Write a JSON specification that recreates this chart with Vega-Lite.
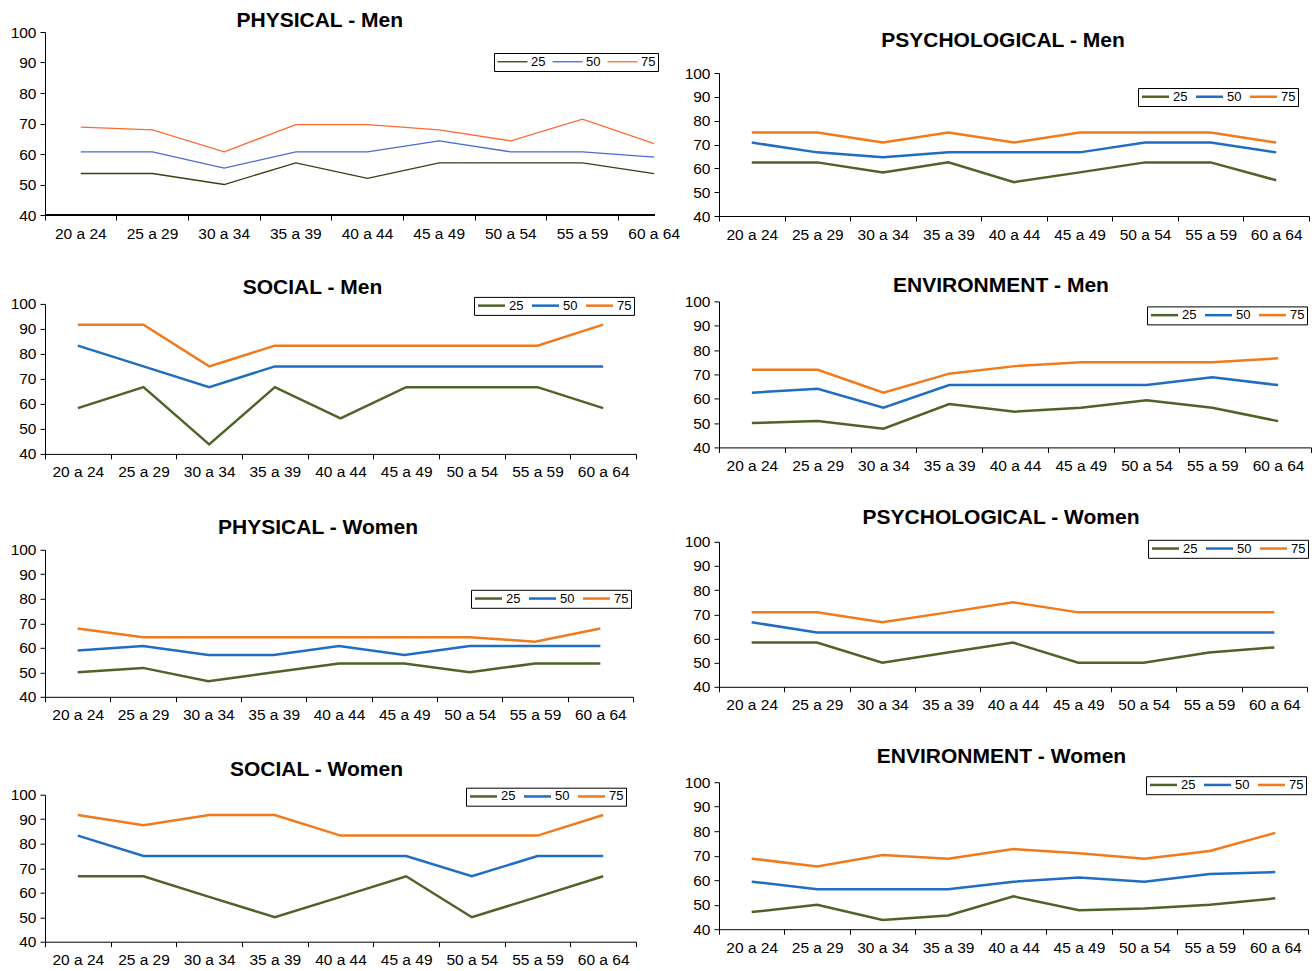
{
"$schema": "https://vega.github.io/schema/vega-lite/v6.json",
"padding": {"left": 10, "top": 8, "right": 0, "bottom": 0},
"spacing": -6,
"resolve": {"scale": {"color": "independent"}, "legend": {"color": "independent"}},
"config": {
  "font": "Liberation Sans",
  "view": {"stroke": null},
  "axis": {"labelFont": "Liberation Sans", "labelFontSize": 15.5, "labelColor": "#000", "domainColor": "#000", "tickColor": "#000", "tickSize": 5, "grid": false},
  "axisX": {"labelPadding": 6, "labelAngle": 0},
  "axisY": {"labelPadding": 4},
  "title": {"font": "Liberation Sans", "fontSize": 21, "fontWeight": "bold", "color": "#000", "anchor": "middle"},
  "legend": {"orient": "none", "direction": "horizontal", "symbolType": "M-1,0H5", "symbolSize": 81, "symbolStrokeWidth": 2.5, "labelFont": "Liberation Sans", "labelFontSize": 13, "labelColor": "#000", "strokeColor": "#000", "fillColor": "#fff", "padding": 2, "columnPadding": 3, "labelOffset": 20}
},
"hconcat": [
{
"spacing": 0,
"resolve": {"scale": {"color": "independent"}, "legend": {"color": "independent"}},
"vconcat": [
{"width": 100, "height": 1, "data": {"values": [{}]}, "mark": {"type": "point", "size": 0, "opacity": 0}, "encoding": {}},
{
"spacing": 34.9,
"resolve": {"scale": {"color": "independent"}, "legend": {"color": "independent"}},
"vconcat": [
{
"width": 609.5, "height": 183,
"title": {"text": "PHYSICAL - Men", "offset": -5.7, "dx": -30},
"data": {"values": [
{"a":"20 a 24","k":"25","v":53.6},{"a":"25 a 29","k":"25","v":53.6},{"a":"30 a 34","k":"25","v":50},{"a":"35 a 39","k":"25","v":57.1},{"a":"40 a 44","k":"25","v":52},{"a":"45 a 49","k":"25","v":57.1},{"a":"50 a 54","k":"25","v":57.1},{"a":"55 a 59","k":"25","v":57.1},{"a":"60 a 64","k":"25","v":53.6},
{"a":"20 a 24","k":"50","v":60.7},{"a":"25 a 29","k":"50","v":60.7},{"a":"30 a 34","k":"50","v":55.4},{"a":"35 a 39","k":"50","v":60.7},{"a":"40 a 44","k":"50","v":60.7},{"a":"45 a 49","k":"50","v":64.3},{"a":"50 a 54","k":"50","v":60.7},{"a":"55 a 59","k":"50","v":60.7},{"a":"60 a 64","k":"50","v":59},
{"a":"20 a 24","k":"75","v":68.8},{"a":"25 a 29","k":"75","v":67.9},{"a":"30 a 34","k":"75","v":60.7},{"a":"35 a 39","k":"75","v":69.6},{"a":"40 a 44","k":"75","v":69.6},{"a":"45 a 49","k":"75","v":67.9},{"a":"50 a 54","k":"75","v":64.3},{"a":"55 a 59","k":"75","v":71.4},{"a":"60 a 64","k":"75","v":63.4}
]},
"layer": [
{
"mark": {"type": "line", "strokeWidth": 1.3},
"encoding": {
  "x": {"field": "a", "type": "nominal", "sort": null, "title": null, "scale": {"type": "band", "paddingInner": 0, "paddingOuter": 0, "range": [0, 645]}, "axis": {"bandPosition": 0, "domain": false}},
  "y": {"field": "v", "type": "quantitative", "title": null, "scale": {"domain": [40, 100], "nice": false, "zero": false}, "axis": {"values": [40,50,60,70,80,90,100]}},
  "color": {"field": "k", "type": "nominal", "scale": {"domain": ["25","50","75"], "range": ["#3d3d12", "#4a6bd0", "#ff6a30"]}, "legend": {"title": null, "legendX": 449, "legendY": 21, "symbolStrokeWidth": 1.3, "symbolSize": 100, "labelOffset": 22}}
}
},
{"mark": {"type": "rule", "color": "#000", "strokeWidth": 1}, "encoding": {"y": {"datum": 40, "type": "quantitative", "axis": {"values": [40,50,60,70,80,90,100]}}}}
]
},
{
"width": 591, "height": 150,
"title": {"text": "SOCIAL - Men", "offset": -1.7, "dx": -28},
"data": {"values": [
{"a":"20 a 24","k":"25","v":58.3},{"a":"25 a 29","k":"25","v":66.7},{"a":"30 a 34","k":"25","v":43.8},{"a":"35 a 39","k":"25","v":66.7},{"a":"40 a 44","k":"25","v":54.2},{"a":"45 a 49","k":"25","v":66.7},{"a":"50 a 54","k":"25","v":66.7},{"a":"55 a 59","k":"25","v":66.7},{"a":"60 a 64","k":"25","v":58.3},
{"a":"20 a 24","k":"50","v":83.3},{"a":"25 a 29","k":"50","v":75},{"a":"30 a 34","k":"50","v":66.7},{"a":"35 a 39","k":"50","v":75},{"a":"40 a 44","k":"50","v":75},{"a":"45 a 49","k":"50","v":75},{"a":"50 a 54","k":"50","v":75},{"a":"55 a 59","k":"50","v":75},{"a":"60 a 64","k":"50","v":75},
{"a":"20 a 24","k":"75","v":91.7},{"a":"25 a 29","k":"75","v":91.7},{"a":"30 a 34","k":"75","v":75},{"a":"35 a 39","k":"75","v":83.3},{"a":"40 a 44","k":"75","v":83.3},{"a":"45 a 49","k":"75","v":83.3},{"a":"50 a 54","k":"75","v":83.3},{"a":"55 a 59","k":"75","v":83.3},{"a":"60 a 64","k":"75","v":91.7}
]},
"mark": {"type": "line", "strokeWidth": 2.5},
"encoding": {
  "x": {"field": "a", "type": "nominal", "sort": null, "title": null, "scale": {"type": "band", "paddingInner": 0, "paddingOuter": 0}, "axis": {"tickBand": "extent"}},
  "y": {"field": "v", "type": "quantitative", "title": null, "scale": {"domain": [40, 100], "nice": false, "zero": false}, "axis": {"values": [40,50,60,70,80,90,100]}},
  "color": {"field": "k", "type": "nominal", "scale": {"domain": ["25","50","75"], "range": ["#4f6228", "#1f6ec1", "#f07a1c"]}, "legend": {"title": null, "legendX": 429, "legendY": -7}}
}
},
{
"width": 588, "height": 147,
"title": {"text": "PHYSICAL - Women", "offset": 5.3, "dx": -21},
"data": {"values": [
{"a":"20 a 24","k":"25","v":50},{"a":"25 a 29","k":"25","v":51.8},{"a":"30 a 34","k":"25","v":46.4},{"a":"35 a 39","k":"25","v":50},{"a":"40 a 44","k":"25","v":53.6},{"a":"45 a 49","k":"25","v":53.6},{"a":"50 a 54","k":"25","v":50},{"a":"55 a 59","k":"25","v":53.6},{"a":"60 a 64","k":"25","v":53.6},
{"a":"20 a 24","k":"50","v":58.9},{"a":"25 a 29","k":"50","v":60.7},{"a":"30 a 34","k":"50","v":57.1},{"a":"35 a 39","k":"50","v":57.1},{"a":"40 a 44","k":"50","v":60.7},{"a":"45 a 49","k":"50","v":57.1},{"a":"50 a 54","k":"50","v":60.7},{"a":"55 a 59","k":"50","v":60.7},{"a":"60 a 64","k":"50","v":60.7},
{"a":"20 a 24","k":"75","v":67.9},{"a":"25 a 29","k":"75","v":64.3},{"a":"30 a 34","k":"75","v":64.3},{"a":"35 a 39","k":"75","v":64.3},{"a":"40 a 44","k":"75","v":64.3},{"a":"45 a 49","k":"75","v":64.3},{"a":"50 a 54","k":"75","v":64.3},{"a":"55 a 59","k":"75","v":62.5},{"a":"60 a 64","k":"75","v":67.9}
]},
"mark": {"type": "line", "strokeWidth": 2.5},
"encoding": {
  "x": {"field": "a", "type": "nominal", "sort": null, "title": null, "scale": {"type": "band", "paddingInner": 0, "paddingOuter": 0}, "axis": {"tickBand": "extent"}},
  "y": {"field": "v", "type": "quantitative", "title": null, "scale": {"domain": [40, 100], "nice": false, "zero": false}, "axis": {"values": [40,50,60,70,80,90,100]}},
  "color": {"field": "k", "type": "nominal", "scale": {"domain": ["25","50","75"], "range": ["#4f6228", "#1f6ec1", "#f07a1c"]}, "legend": {"title": null, "legendX": 426, "legendY": 40}}
}
},
{
"width": 591, "height": 147,
"title": {"text": "SOCIAL - Women", "offset": 7.3, "dx": -24},
"data": {"values": [
{"a":"20 a 24","k":"25","v":66.7},{"a":"25 a 29","k":"25","v":66.7},{"a":"30 a 34","k":"25","v":58.3},{"a":"35 a 39","k":"25","v":50},{"a":"40 a 44","k":"25","v":58.3},{"a":"45 a 49","k":"25","v":66.7},{"a":"50 a 54","k":"25","v":50},{"a":"55 a 59","k":"25","v":58.3},{"a":"60 a 64","k":"25","v":66.7},
{"a":"20 a 24","k":"50","v":83.3},{"a":"25 a 29","k":"50","v":75},{"a":"30 a 34","k":"50","v":75},{"a":"35 a 39","k":"50","v":75},{"a":"40 a 44","k":"50","v":75},{"a":"45 a 49","k":"50","v":75},{"a":"50 a 54","k":"50","v":66.7},{"a":"55 a 59","k":"50","v":75},{"a":"60 a 64","k":"50","v":75},
{"a":"20 a 24","k":"75","v":91.7},{"a":"25 a 29","k":"75","v":87.5},{"a":"30 a 34","k":"75","v":91.7},{"a":"35 a 39","k":"75","v":91.7},{"a":"40 a 44","k":"75","v":83.3},{"a":"45 a 49","k":"75","v":83.3},{"a":"50 a 54","k":"75","v":83.3},{"a":"55 a 59","k":"75","v":83.3},{"a":"60 a 64","k":"75","v":91.7}
]},
"mark": {"type": "line", "strokeWidth": 2.5},
"encoding": {
  "x": {"field": "a", "type": "nominal", "sort": null, "title": null, "scale": {"type": "band", "paddingInner": 0, "paddingOuter": 0}, "axis": {"tickBand": "extent"}},
  "y": {"field": "v", "type": "quantitative", "title": null, "scale": {"domain": [40, 100], "nice": false, "zero": false}, "axis": {"values": [40,50,60,70,80,90,100]}},
  "color": {"field": "k", "type": "nominal", "scale": {"domain": ["25","50","75"], "range": ["#4f6228", "#1f6ec1", "#f07a1c"]}, "legend": {"title": null, "legendX": 421, "legendY": -7}}
}
}
]
}
]
},
{
"spacing": 0,
"resolve": {"scale": {"color": "independent"}, "legend": {"color": "independent"}},
"vconcat": [
{"width": 100, "height": 21, "data": {"values": [{}]}, "mark": {"type": "point", "size": 0, "opacity": 0}, "encoding": {}},
{
"spacing": 31.4,
"resolve": {"scale": {"color": "independent"}, "legend": {"color": "independent"}},
"vconcat": [
{
"width": 590, "height": 143,
"title": {"text": "PSYCHOLOGICAL - Men", "offset": 15.3, "dx": -11},
"data": {"values": [
{"a":"20 a 24","k":"25","v":62.5},{"a":"25 a 29","k":"25","v":62.5},{"a":"30 a 34","k":"25","v":58.3},{"a":"35 a 39","k":"25","v":62.5},{"a":"40 a 44","k":"25","v":54.2},{"a":"45 a 49","k":"25","v":58.3},{"a":"50 a 54","k":"25","v":62.5},{"a":"55 a 59","k":"25","v":62.5},{"a":"60 a 64","k":"25","v":55},
{"a":"20 a 24","k":"50","v":70.8},{"a":"25 a 29","k":"50","v":66.7},{"a":"30 a 34","k":"50","v":64.6},{"a":"35 a 39","k":"50","v":66.7},{"a":"40 a 44","k":"50","v":66.7},{"a":"45 a 49","k":"50","v":66.7},{"a":"50 a 54","k":"50","v":70.8},{"a":"55 a 59","k":"50","v":70.8},{"a":"60 a 64","k":"50","v":66.7},
{"a":"20 a 24","k":"75","v":75},{"a":"25 a 29","k":"75","v":75},{"a":"30 a 34","k":"75","v":70.8},{"a":"35 a 39","k":"75","v":75},{"a":"40 a 44","k":"75","v":70.8},{"a":"45 a 49","k":"75","v":75},{"a":"50 a 54","k":"75","v":75},{"a":"55 a 59","k":"75","v":75},{"a":"60 a 64","k":"75","v":70.8}
]},
"mark": {"type": "line", "strokeWidth": 2.5},
"encoding": {
  "x": {"field": "a", "type": "nominal", "sort": null, "title": null, "scale": {"type": "band", "paddingInner": 0, "paddingOuter": 0}, "axis": {"tickBand": "extent"}},
  "y": {"field": "v", "type": "quantitative", "title": null, "scale": {"domain": [40, 100], "nice": false, "zero": false}, "axis": {"values": [40,50,60,70,80,90,100]}},
  "color": {"field": "k", "type": "nominal", "scale": {"domain": ["25","50","75"], "range": ["#4f6228", "#1f6ec1", "#f07a1c"]}, "legend": {"title": null, "legendX": 419, "legendY": 15}}
}
},
{
"width": 592, "height": 146,
"title": {"text": "ENVIRONMENT - Men", "offset": -1.7, "dx": -14},
"data": {"values": [
{"a":"20 a 24","k":"25","v":50},{"a":"25 a 29","k":"25","v":50.8},{"a":"30 a 34","k":"25","v":47.7},{"a":"35 a 39","k":"25","v":57.8},{"a":"40 a 44","k":"25","v":54.7},{"a":"45 a 49","k":"25","v":56.3},{"a":"50 a 54","k":"25","v":59.4},{"a":"55 a 59","k":"25","v":56.3},{"a":"60 a 64","k":"25","v":50.8},
{"a":"20 a 24","k":"50","v":62.5},{"a":"25 a 29","k":"50","v":64.1},{"a":"30 a 34","k":"50","v":56.3},{"a":"35 a 39","k":"50","v":65.6},{"a":"40 a 44","k":"50","v":65.6},{"a":"45 a 49","k":"50","v":65.6},{"a":"50 a 54","k":"50","v":65.6},{"a":"55 a 59","k":"50","v":68.8},{"a":"60 a 64","k":"50","v":65.6},
{"a":"20 a 24","k":"75","v":71.9},{"a":"25 a 29","k":"75","v":71.9},{"a":"30 a 34","k":"75","v":62.5},{"a":"35 a 39","k":"75","v":70.3},{"a":"40 a 44","k":"75","v":73.4},{"a":"45 a 49","k":"75","v":75},{"a":"50 a 54","k":"75","v":75},{"a":"55 a 59","k":"75","v":75},{"a":"60 a 64","k":"75","v":76.6}
]},
"mark": {"type": "line", "strokeWidth": 2.5},
"encoding": {
  "x": {"field": "a", "type": "nominal", "sort": null, "title": null, "scale": {"type": "band", "paddingInner": 0, "paddingOuter": 0}, "axis": {"tickBand": "extent"}},
  "y": {"field": "v", "type": "quantitative", "title": null, "scale": {"domain": [40, 100], "nice": false, "zero": false}, "axis": {"values": [40,50,60,70,80,90,100]}},
  "color": {"field": "k", "type": "nominal", "scale": {"domain": ["25","50","75"], "range": ["#4f6228", "#1f6ec1", "#f07a1c"]}, "legend": {"title": null, "legendX": 428, "legendY": 5}}
}
},
{
"width": 588, "height": 145,
"title": {"text": "PSYCHOLOGICAL - Women", "offset": 7.3, "dx": -12},
"data": {"values": [
{"a":"20 a 24","k":"25","v":58.3},{"a":"25 a 29","k":"25","v":58.3},{"a":"30 a 34","k":"25","v":50},{"a":"35 a 39","k":"25","v":54.2},{"a":"40 a 44","k":"25","v":58.3},{"a":"45 a 49","k":"25","v":50},{"a":"50 a 54","k":"25","v":50},{"a":"55 a 59","k":"25","v":54.2},{"a":"60 a 64","k":"25","v":56.3},
{"a":"20 a 24","k":"50","v":66.7},{"a":"25 a 29","k":"50","v":62.5},{"a":"30 a 34","k":"50","v":62.5},{"a":"35 a 39","k":"50","v":62.5},{"a":"40 a 44","k":"50","v":62.5},{"a":"45 a 49","k":"50","v":62.5},{"a":"50 a 54","k":"50","v":62.5},{"a":"55 a 59","k":"50","v":62.5},{"a":"60 a 64","k":"50","v":62.5},
{"a":"20 a 24","k":"75","v":70.8},{"a":"25 a 29","k":"75","v":70.8},{"a":"30 a 34","k":"75","v":66.7},{"a":"35 a 39","k":"75","v":70.8},{"a":"40 a 44","k":"75","v":75},{"a":"45 a 49","k":"75","v":70.8},{"a":"50 a 54","k":"75","v":70.8},{"a":"55 a 59","k":"75","v":70.8},{"a":"60 a 64","k":"75","v":70.8}
]},
"mark": {"type": "line", "strokeWidth": 2.5},
"encoding": {
  "x": {"field": "a", "type": "nominal", "sort": null, "title": null, "scale": {"type": "band", "paddingInner": 0, "paddingOuter": 0}, "axis": {"tickBand": "extent"}},
  "y": {"field": "v", "type": "quantitative", "title": null, "scale": {"domain": [40, 100], "nice": false, "zero": false}, "axis": {"values": [40,50,60,70,80,90,100]}},
  "color": {"field": "k", "type": "nominal", "scale": {"domain": ["25","50","75"], "range": ["#4f6228", "#1f6ec1", "#f07a1c"]}, "legend": {"title": null, "legendX": 429, "legendY": -2}}
}
},
{
"width": 589, "height": 147,
"title": {"text": "ENVIRONMENT - Women", "offset": 8.3, "dx": -12},
"data": {"values": [
{"a":"20 a 24","k":"25","v":47},{"a":"25 a 29","k":"25","v":50},{"a":"30 a 34","k":"25","v":43.8},{"a":"35 a 39","k":"25","v":45.6},{"a":"40 a 44","k":"25","v":53.4},{"a":"45 a 49","k":"25","v":47.7},{"a":"50 a 54","k":"25","v":48.4},{"a":"55 a 59","k":"25","v":50},{"a":"60 a 64","k":"25","v":52.6},
{"a":"20 a 24","k":"50","v":59.4},{"a":"25 a 29","k":"50","v":56.3},{"a":"30 a 34","k":"50","v":56.3},{"a":"35 a 39","k":"50","v":56.3},{"a":"40 a 44","k":"50","v":59.4},{"a":"45 a 49","k":"50","v":61.1},{"a":"50 a 54","k":"50","v":59.4},{"a":"55 a 59","k":"50","v":62.5},{"a":"60 a 64","k":"50","v":63.3},
{"a":"20 a 24","k":"75","v":68.8},{"a":"25 a 29","k":"75","v":65.6},{"a":"30 a 34","k":"75","v":70.3},{"a":"35 a 39","k":"75","v":68.8},{"a":"40 a 44","k":"75","v":72.7},{"a":"45 a 49","k":"75","v":71},{"a":"50 a 54","k":"75","v":68.8},{"a":"55 a 59","k":"75","v":71.9},{"a":"60 a 64","k":"75","v":79.3}
]},
"mark": {"type": "line", "strokeWidth": 2.5},
"encoding": {
  "x": {"field": "a", "type": "nominal", "sort": null, "title": null, "scale": {"type": "band", "paddingInner": 0, "paddingOuter": 0}, "axis": {"tickBand": "extent"}},
  "y": {"field": "v", "type": "quantitative", "title": null, "scale": {"domain": [40, 100], "nice": false, "zero": false}, "axis": {"values": [40,50,60,70,80,90,100]}},
  "color": {"field": "k", "type": "nominal", "scale": {"domain": ["25","50","75"], "range": ["#4f6228", "#1f6ec1", "#f07a1c"]}, "legend": {"title": null, "legendX": 427, "legendY": -6}}
}
}
]
}
]
}
]
}
